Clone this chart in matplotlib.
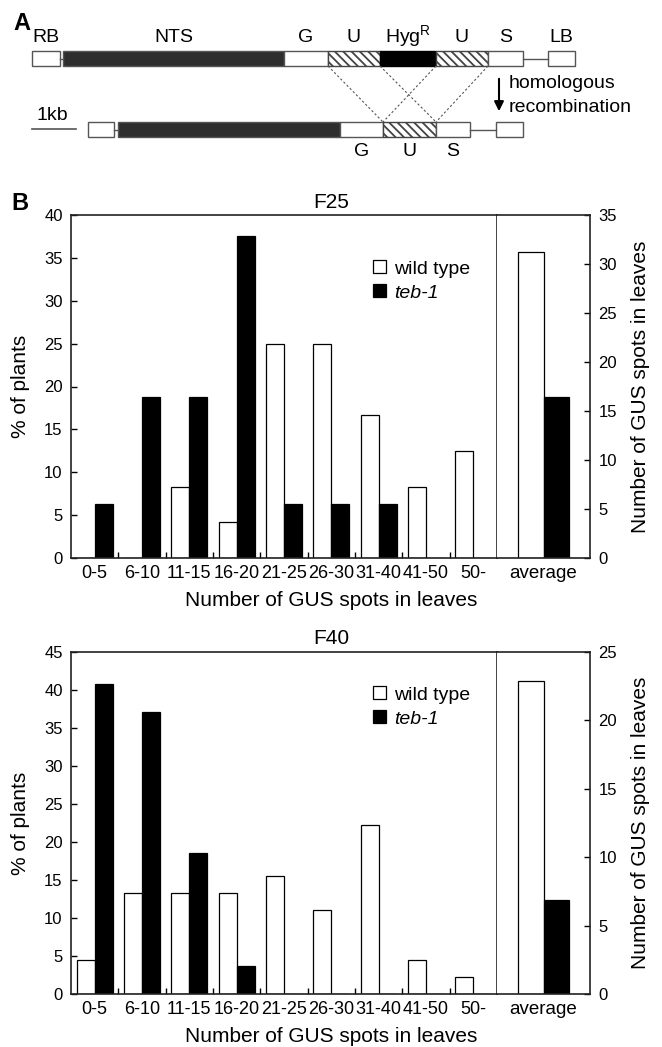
import matplotlib
matplotlib.use('Agg')
import matplotlib.pyplot as plt
from matplotlib.patches import Rectangle, Patch
import numpy as np

plt.rcParams['font.family'] = ['Liberation Sans', 'DejaVu Sans']
plt.rcParams['mathtext.fontset'] = 'custom'
plt.rcParams['mathtext.rm'] = 'Liberation Sans'
plt.rcParams['hatch.linewidth'] = 1.3
plt.rcParams['hatch.color'] = '#333333'

# ---- data ----
categories = ['0-5', '6-10', '11-15', '16-20', '21-25', '26-30', '31-40', '41-50', '50-']
f25_wt = [0, 0, 8.33, 4.17, 25, 25, 16.67, 8.33, 12.5]
f25_teb = [6.25, 18.75, 18.75, 37.5, 6.25, 6.25, 6.25, 0, 0]
f25_avg = [31.2, 16.4]          # wild type, teb-1
f40_wt = [4.44, 13.33, 13.33, 13.33, 15.56, 11.11, 22.22, 4.44, 2.22]
f40_teb = [40.74, 37.04, 18.52, 3.70, 0, 0, 0, 0, 0]
f40_avg = [22.9, 6.9]

# construct map (segment kind, length in px of the drawing)
top_kinds = ['box', 'gap', 'dark', 'box', 'hatch', 'black', 'hatch', 'box', 'line', 'box']
top_lens = [28, 3, 221, 44, 52, 56, 52, 35, 25, 27]
top_labels = ['RB', '', 'NTS', 'G', 'U', 'Hyg$^{\\rm R}$', 'U', 'S', '', 'LB']
bot_kinds = ['box', 'gap', 'dark', 'box', 'hatch', 'box', 'line', 'box']
bot_lens = [26, 4, 222, 43, 53, 34, 26, 27]
bot_labels = ['', '', '', 'G', 'U', 'S', '', '']

W, H = 662, 1047
fig = plt.figure(figsize=(W / 100, H / 100), dpi=100)


def fx(px):
    return px / W


def fy(py):
    return 1 - py / H


# ---- panel A ----
axa = fig.add_axes([0, fy(175), 1, 175 / H])
axa.set_xlim(0, W)
axa.set_ylim(175, 0)
axa.axis('off')


def draw_row(kinds, lens, labels, x0, y0, y1, lab_y):
    x = x0
    edges = []
    for k, l, lab in zip(kinds, lens, labels):
        if k == 'box':
            axa.add_patch(Rectangle((x, y0), l, y1 - y0, fc='white', ec='#555555', lw=1))
        elif k == 'dark':
            axa.add_patch(Rectangle((x, y0), l, y1 - y0, fc='#2e2e2e', ec='#555555', lw=1))
        elif k == 'black':
            axa.add_patch(Rectangle((x, y0), l, y1 - y0, fc='black', ec='black', lw=1))
        elif k == 'hatch':
            axa.add_patch(Rectangle((x, y0), l, y1 - y0, fc='white', ec='#444444', lw=1,
                                    hatch='\\\\\\\\'))
        elif k in ('line', 'gap'):
            axa.plot([x, x + l], [(y0 + y1) / 2] * 2, color='#555555', lw=1)
        if lab:
            axa.text(x + l / 2, lab_y, lab, ha='center', va='center', fontsize=14)
        edges.append((k, x, x + l))
        x += l
    return edges


top = draw_row(top_kinds, top_lens, top_labels, 32, 51, 66, 37)
bot = draw_row(bot_kinds, bot_lens, bot_labels, 88, 122, 137, 152)

# dashed crossover lines between the U regions
tu = [e for e in top if e[0] == 'hatch']
bu = [e for e in bot if e[0] == 'hatch'][0]
ls = dict(color='#555555', lw=0.8, ls=(0, (2, 2)))
axa.plot([tu[0][1], bu[1]], [66, 122], **ls)
axa.plot([tu[0][2], bu[2]], [66, 122], **ls)
axa.plot([tu[1][1], bu[1]], [66, 122], **ls)
axa.plot([tu[1][2], bu[2]], [66, 122], **ls)

axa.plot([32, 76], [129, 129], color='#555555', lw=1.2)
axa.text(52, 115, '1kb', ha='center', va='center', fontsize=14)
axa.annotate('', xy=(499, 114), xytext=(499, 76),
             arrowprops=dict(arrowstyle='-|>', color='black', lw=1.5, mutation_scale=14))
axa.text(509, 83, 'homologous', ha='left', va='center', fontsize=14)
axa.text(509, 107, 'recombination', ha='left', va='center', fontsize=14)
fig.text(fx(22), fy(24), 'A', fontsize=17, fontweight='bold', ha='center', va='center')
fig.text(fx(20), fy(203), 'B', fontsize=17, fontweight='bold', ha='center', va='center')


# ---- panel B ----
def chart(top_px, bot_px, wt, teb, avg, ymax_l, ymax_r, title, leg_y):
    h = (bot_px - top_px) / H
    axm = fig.add_axes([fx(71), fy(bot_px), fx(497) - fx(71), h])
    axv = fig.add_axes([fx(497), fy(bot_px), fx(590) - fx(497), h])
    x = np.arange(len(categories))
    bw = 0.38
    axm.bar(x - bw / 2, wt, bw, color='white', edgecolor='black', lw=0.9)
    axm.bar(x + bw / 2, teb, bw, color='black', edgecolor='black', lw=0.9)
    axm.set_xlim(-0.5, len(categories) - 0.5)
    axm.set_ylim(0, ymax_l)
    axm.set_yticks(np.arange(0, ymax_l + 1, 5))
    axm.set_xticks(x)
    axm.set_xticklabels(categories, fontsize=13)
    axm.set_xticks(x[:-1] + 0.5, minor=True)
    axm.tick_params(axis='x', which='major', length=0, pad=5)
    axm.tick_params(axis='x', which='minor', direction='in', length=4, width=1)
    axm.tick_params(axis='y', direction='in', length=4, width=1, pad=6, labelsize=12)
    axm.set_ylabel('% of plants', fontsize=15, labelpad=10)

    aw = 0.27
    axv.bar([-aw / 2], [avg[0]], aw, color='white', edgecolor='black', lw=0.9)
    axv.bar([aw / 2], [avg[1]], aw, color='black', edgecolor='black', lw=0.9)
    axv.set_xlim(-0.5, 0.5)
    axv.set_ylim(0, ymax_r)
    axv.set_yticks(np.arange(0, ymax_r + 1, 5))
    axv.yaxis.tick_right()
    axv.yaxis.set_label_position('right')
    axv.set_xticks([0])
    axv.set_xticklabels(['average'], fontsize=13.5)
    axv.tick_params(axis='x', length=0, pad=5)
    axv.tick_params(axis='y', direction='in', length=4, width=1, pad=6, labelsize=12)
    axv.set_ylabel('Number of GUS spots in leaves', fontsize=15, labelpad=10)
    axv.spines['left'].set_visible(False)
    for a in (axm, axv):
        for s in a.spines.values():
            s.set_linewidth(1.2)
            s.set_color('#222222')

    handles = [Patch(facecolor='white', edgecolor='black', lw=0.9),
               Patch(facecolor='black', edgecolor='black', lw=0.9)]
    leg = axm.legend(handles, ['wild type', 'teb-1'], loc='upper left',
                     bbox_to_anchor=(0.71, leg_y), frameon=False, fontsize=14,
                     handlelength=0.65, handleheight=0.65, handletextpad=0.4,
                     labelspacing=0.35, borderpad=0, borderaxespad=0)
    leg.get_texts()[1].set_style('italic')

    fig.text(fx(331), fy(top_px - 13), title, fontsize=15, ha='center', va='center')
    fig.text(fx(331), fy(bot_px + 43), 'Number of GUS spots in leaves', fontsize=15,
             ha='center', va='center')


chart(215, 558, f25_wt, f25_teb, f25_avg, 40, 35, 'F25', 0.868)
chart(652, 994, f40_wt, f40_teb, f40_avg, 45, 25, 'F40', 0.90)

fig.savefig('out.png', dpi=100)
